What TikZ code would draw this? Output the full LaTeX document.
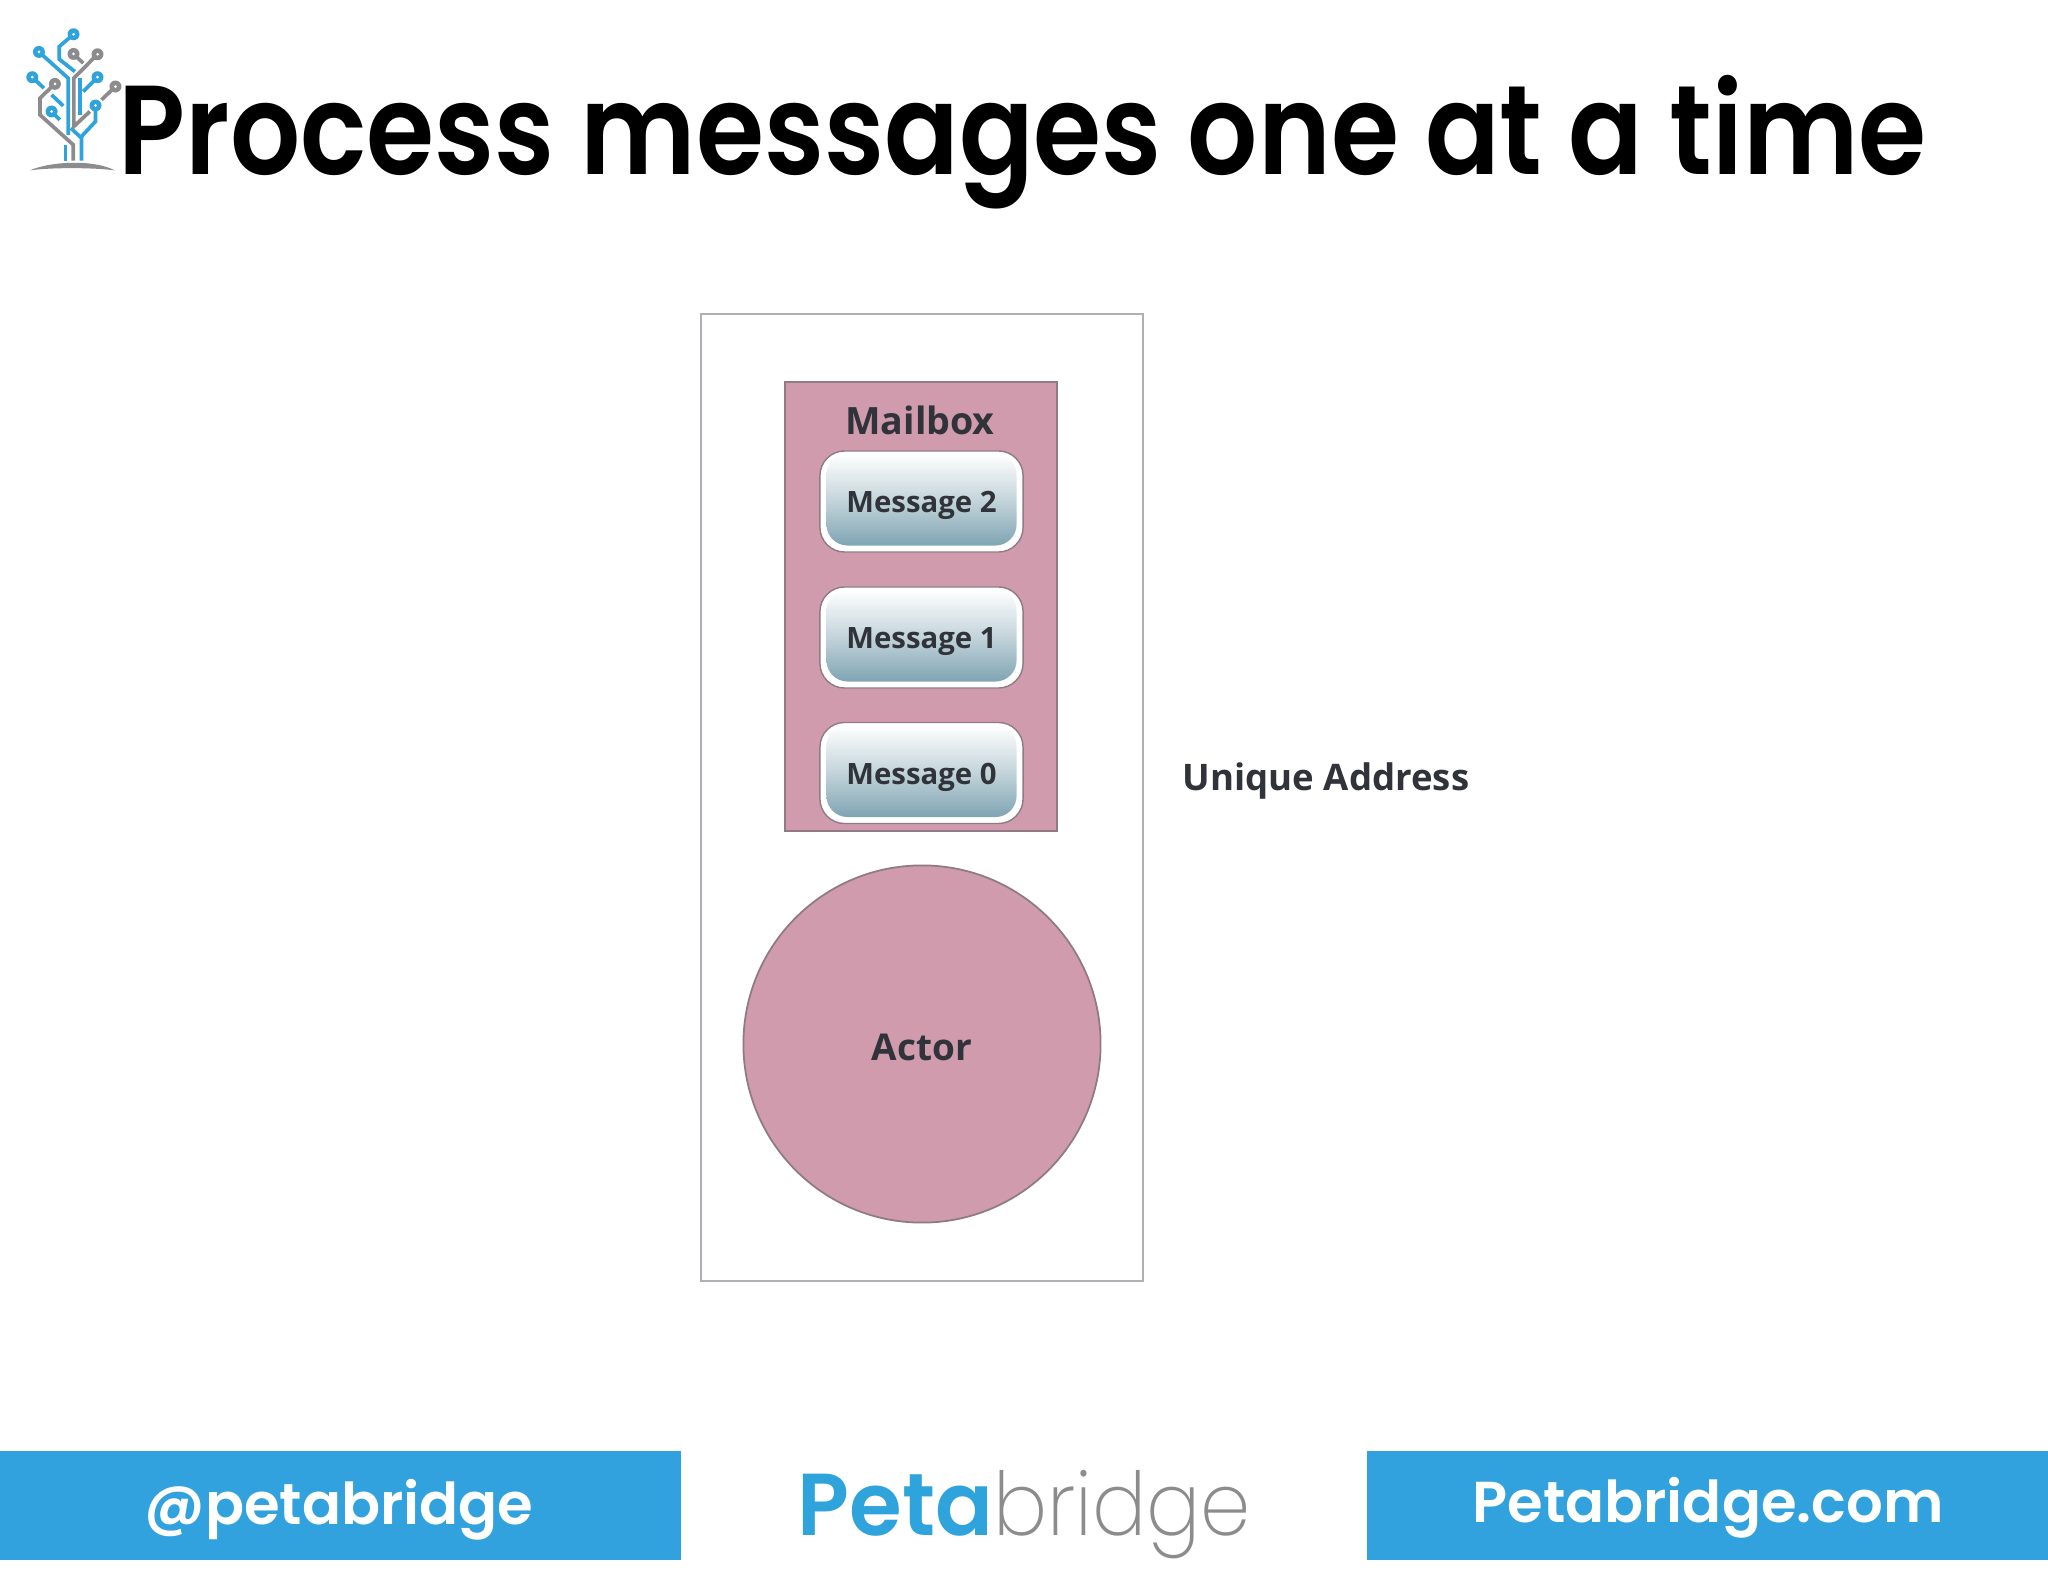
\documentclass[tikz,border=0pt]{standalone}
\usepackage{fontspec}
\setmainfont{Open Sans}
\newfontfamily\brandfont{Poppins}
\newfontfamily\brandsemi{Poppins SemiBold}
\newfontfamily\brandlight{Poppins ExtraLight}
\usetikzlibrary{calc}
\definecolor{rose}{HTML}{D09BAC}
\definecolor{roseedge}{HTML}{8F7A85}
\definecolor{framegray}{HTML}{B3AEB5}
\definecolor{inkdark}{HTML}{30343A}
\definecolor{barblue}{HTML}{31A2DD}
\definecolor{logoblue}{HTML}{2FA3DC}
\definecolor{logogray}{HTML}{8C8C8E}
\definecolor{msgmid}{HTML}{C5D5DB}
\definecolor{msgbot}{HTML}{7FA4B3}
\tikzset{
  lbl/.style={text=inkdark,font=\bfseries,inner sep=0pt},
  msgrim/.style={draw=roseedge,line width=0.4pt,fill=white,rounded corners=7pt,minimum width=2.03cm,minimum height=1.01cm,inner sep=0pt},
  msgface/.style={rounded corners=6pt,top color=white,bottom color=msgbot,middle color=msgmid,minimum width=1.90cm,minimum height=0.92cm,inner sep=0pt},
  msgtext/.style={text=inkdark,inner sep=0pt,font=\fontsize{8.35}{8.35}\selectfont\bfseries},
  bar/.style={fill=barblue,draw=none,inner sep=0pt,anchor=north west,minimum height=1.09cm},
  bartext/.style={text=white,font=\fontsize{16.4}{16.4}\brandsemi,inner sep=0pt},
  treeblue/.style={draw=logoblue,line width=1.05pt,line join=miter},
  treegray/.style={draw=logogray,line width=1.05pt,line join=miter},
}
\newcommand{\dotblue}[1]{\fill[logoblue] #1 circle (18); \fill[white] #1 circle (4.5);}
\newcommand{\dotgray}[1]{\fill[logogray] #1 circle (18); \fill[white] #1 circle (4.5);}
\begin{document}
\begin{tikzpicture}[x=0.01cm,y=-0.01cm]
\useasboundingbox (0,0) rectangle (2048,1582);
\fill[white] (0,0) rectangle (2048,1582);

% title
\node[anchor=base west,inner sep=0pt,text=black,font=\fontsize{36}{36}\brandsemi] (title) at (118,175) {\scalebox{0.87}[1]{Process messages one at a time}};

% logo
\begin{scope}[x=0.003333cm,y=-0.003333cm]
\draw[treeblue] (221,103) -- (178,140) -- (178,178) -- (225,215);
\draw[treeblue] (117,156) -- (205,235) -- (205,405);
\draw[treeblue] (97,232) -- (132,265);
\draw[treeblue] (155,285) -- (190,318);
\draw[treeblue] (293,232) -- (250,275);
\draw[treeblue] (240,235) -- (240,345);
\draw[treeblue] (155,335) -- (180,360);
\draw[treeblue] (287,317) -- (287,365) -- (245,410) -- (245,483);
\draw[treeblue] (213,385) -- (245,415);
\draw[treeblue] (197,435) -- (197,483);
\draw[treegray] (221,162) -- (250,190);
\draw[treegray] (293,163) -- (222,235) -- (222,380) -- (270,335);
\draw[treegray] (305,300) -- (347,260);
\draw[treegray] (165,252) -- (120,295) -- (120,345) -- (220,435) -- (220,483);
\fill[logogray] (90,512) .. controls (150,485) and (280,478) .. (345,512) .. controls (280,503) and (150,503) .. (90,512) -- cycle;
\dotblue{(221,103)} \dotblue{(117,156)} \dotblue{(97,232)} \dotblue{(293,232)} \dotblue{(155,335)} \dotblue{(287,317)}
\dotgray{(221,162)} \dotgray{(293,163)} \dotgray{(165,252)} \dotgray{(347,260)}
\end{scope}

% diagram
\node[draw=framegray,line width=0.6pt,fill=white,minimum width=4.41cm,minimum height=9.66cm,inner sep=0pt] (frame) at (922,797.5) {};
\node[draw=roseedge,line width=0.5pt,fill=rose,minimum width=2.72cm,minimum height=4.48cm,inner sep=0pt] (mailbox) at (921,606.5) {};
\node[lbl,font=\fontsize{10.7}{10.7}\selectfont\bfseries] (mblabel) at (920,420) {Mailbox};
\node[msgrim] (m2rim) at (921.5,501.5) {};
\node[msgrim] (m1rim) at (921.5,637.5) {};
\node[msgrim] (m0rim) at (921.5,773) {};
\node[msgface] (m2) at (921.5,499.5) {};
\node[msgface] (m1) at (921.5,635.5) {};
\node[msgface] (m0) at (921.5,771) {};
\node[msgtext] (m2t) at (921.5,505.5) {Message 2};
\node[msgtext] (m1t) at (921.5,642) {Message 1};
\node[msgtext] (m0t) at (921.5,777) {Message 0};
\node[circle,draw=roseedge,line width=0.5pt,fill=rose,minimum size=3.57cm,inner sep=0pt] (actor) at (922,1044) {};
\node[lbl,font=\fontsize{10.5}{10.5}\selectfont\bfseries] (actorlabel) at (922,1047) {Actor};
\node[lbl,anchor=west,font=\fontsize{10.4}{10.4}\selectfont\bfseries] (addr) at (1182,781) {Unique Address};

% footer
\node[bar,minimum width=6.84cm] (barl) at (-4,1450) {};
\node[bar,minimum width=6.86cm] (barr) at (1366,1450) {};
\node[bartext] (handle) at (339,1510) {@petabridge};
\node[bartext] (site) at (1708,1508) {Petabridge.com};
\begin{scope}
\clip (780,1440) rectangle (1270,1559);
\node[anchor=base west,inner sep=0pt,font=\fontsize{25}{25}\selectfont] (brand) at (797,1535) {\textcolor{logoblue}{\scalebox{0.97}[1]{\brandsemi Peta}}\textcolor{logogray}{\scalebox{0.915}[1]{\brandlight bridge}}};
\end{scope}
\end{tikzpicture}
\end{document}
